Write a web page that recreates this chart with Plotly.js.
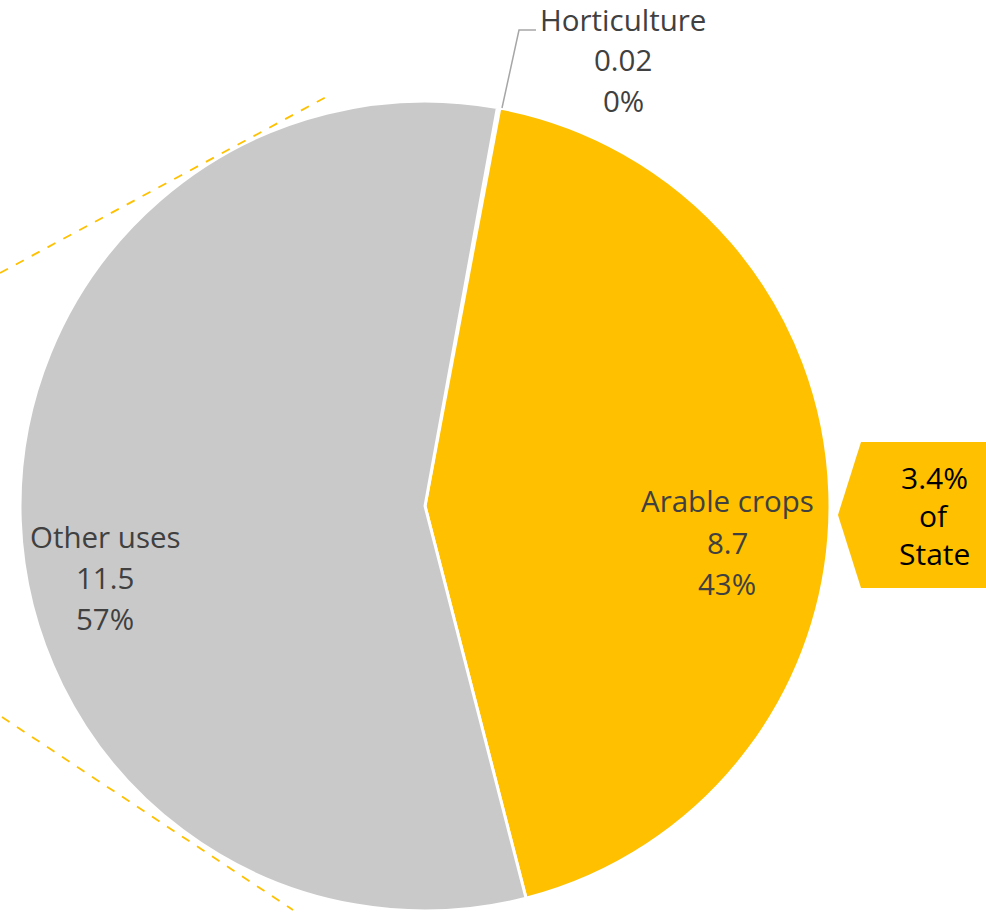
<!DOCTYPE html>
<html>
<head>
<meta charset="utf-8">
<script src="https://cdn.plot.ly/plotly-3.0.1.min.js"></script>
<style>html,body{margin:0;padding:0;background:#fff;}#chart{width:986px;height:912px;}</style>
</head>
<body>
<div id="chart"></div>
<script>
// ---- data ----
const categories = ["Horticulture", "Arable crops", "Other uses"];
const values = [0.02, 8.7, 11.5];
const valueLabels = ["0.02", "8.7", "11.5"];
const percentLabels = ["0%", "43%", "57%"];
const sliceColors = ["#A5A5A5", "#FFC000", "#C9C9C9"];
const calloutLines = ["3.4%", "of", "State"];

// ---- layout helpers (pixel -> paper) ----
const W = 986, H = 912;
const px = x => x / W;
const py = y => 1 - y / H;

const cx = 425, cy = 506, R = 405;

const pie = {
  type: "pie",
  labels: categories,
  values: values,
  sort: false,
  direction: "clockwise",
  rotation: 10.3,
  textinfo: "none",
  hoverinfo: "label+value+percent",
  marker: { colors: sliceColors, line: { color: "#FFFFFF", width: 3 } },
  domain: { x: [px(cx - R), px(cx + R)], y: [py(cy + R), py(cy - R)] },
  showlegend: false
};

// label block positions (centre x, first line y) — text only
const labelPos = [
  { x: 623, y: 20 },
  { x: 727, y: 501 },
  { x: 105, y: 536 }
];
const lineGap = [40, 41, 41];
const annotations = [];
const font = { family: "Open Sans, sans-serif", size: 29.5, color: "#404040" };
categories.forEach((c, i) => {
  const lines = [c, valueLabels[i], percentLabels[i]];
  lines.forEach((t, k) => {
    annotations.push({
      xref: "paper", yref: "paper",
      x: px(labelPos[i].x), y: py(labelPos[i].y + k * lineGap[i]),
      xanchor: "center", yanchor: "middle",
      text: t, showarrow: false, font: font
    });
  });
});
calloutLines.forEach((t, k) => {
  annotations.push({
    xref: "paper", yref: "paper",
    x: px(934), y: py(477 + k * 38),
    xanchor: "center", yanchor: "middle",
    text: t, showarrow: false,
    font: { family: "Open Sans, sans-serif", size: 30, color: "#000000" }
  });
});

const P = (x, y) => px(x) + "," + py(y);
const shapes = [
  // leader line for Horticulture
  { type: "path", xref: "paper", yref: "paper",
    path: "M" + P(502, 108) + " L" + P(519, 30) + " L" + P(536, 30),
    line: { color: "#A6A6A6", width: 1.5 } },
  // dashed connector lines
  { type: "line", xref: "paper", yref: "paper",
    x0: px(0), y0: py(273), x1: px(328), y1: py(96),
    line: { color: "#FFC000", width: 1.8, dash: "dash" } },
  { type: "line", xref: "paper", yref: "paper",
    x0: px(2), y0: py(717), x1: px(293), y1: py(910),
    line: { color: "#FFC000", width: 1.8, dash: "dash" } },
  // callout arrow
  { type: "path", xref: "paper", yref: "paper",
    path: "M" + P(838, 515) + " L" + P(861, 442) + " L" + P(986, 442) +
          " L" + P(986, 588) + " L" + P(861, 588) + " Z",
    fillcolor: "#FFC000", line: { width: 0 }, layer: "above" }
];

const layout = {
  width: W, height: H,
  margin: { l: 0, r: 0, t: 0, b: 0 },
  paper_bgcolor: "#FFFFFF",
  plot_bgcolor: "#FFFFFF",
  showlegend: false,
  annotations: annotations,
  shapes: shapes
};

Plotly.newPlot("chart", [pie], layout, { displayModeBar: false, staticPlot: true });
</script>
</body>
</html>
